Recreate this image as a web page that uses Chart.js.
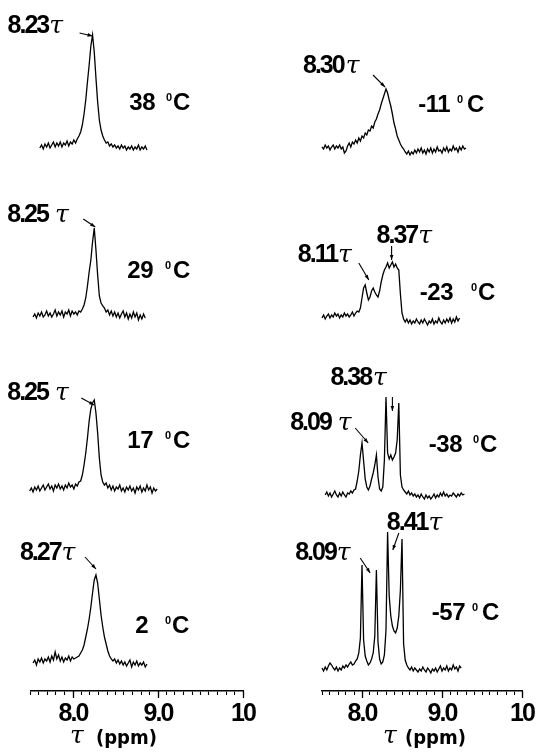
<!DOCTYPE html>
<html>
<head>
<meta charset="utf-8">
<script src="https://cdn.jsdelivr.net/npm/chart.js@4.4.0/dist/chart.umd.min.js"></script>
<style>
  html, body { margin: 0; padding: 0; background: #fff; }
  #wrap { position: relative; width: 536px; height: 752px; overflow: hidden; background: #fff; }
  canvas { position: absolute; top: 0; }
</style>
</head>
<body>
<div id="wrap">
  <canvas id="left" width="268" height="752" style="left:0"></canvas>
  <canvas id="right" width="268" height="752" style="left:268px"></canvas>
</div>
<script>
// ---------- data ----------
// chemical shift grid step (ppm) of every trace
const ppmStep = 0.02;

// temperatures (°C) of the traces, top to bottom
const leftTemps = ['38', '29', '17', '2'];
const rightTemps = ['-11', '-23', '-38', '-57'];

// first chemical shift (τ, ppm) of each trace
const leftStart = [7.61, 7.53, 7.49, 7.53];
const rightStart = [7.50, 7.50, 7.54, 7.50];

// signal intensity (arbitrary units) along each trace
const spec38 = [2,5,1,6,3,7,2,5,8,3, 7,4,8,3,7,5,9,4,8,6, 10,7,11,14,18,25,36,50,68,85,
  104,115,98,72,48,30,20,14,10,7, 8,4,6,3,5,2,4,1,5,2, 4,0,3,1,4,0,3,1,5,0, 3,1,4,0];
const spec29 = [3,6,2,7,4,8,3,5,9,4, 7,3,6,10,4,8,5,9,3,8, 6,10,4,9,6,8,5,9,8,11,
  15,22,34,48,60,78,92,70,45,24, 17,14,12,8,10,5,9,4,8,3, 7,2,6,9,3,7,1,6,2,8, 3,7,0,5,1,6,2];
const spec17 = [2,5,1,6,3,7,2,5,8,3, 6,9,4,7,2,8,5,9,4,7, 3,8,5,10,6,8,4,9,7,11,
  12,18,28,40,55,72,84,90,93,80, 60,35,18,11,8,10,5,8,3,7, 2,6,4,8,2,5,1,6,3,7,
  2,5,0,6,3,7,1,5,2,8, 3,6,0,5,2,4];
const spec2 = [2,5,0,6,3,7,2,6,4,8, 3,9,5,13,6,10,4,8,3,7, 5,9,4,8,6,7,8,
  9,12,15,20,28,36,46,58,72,85, 90,82,66,50,38,28,21,14,9,6,
  4,6,2,5,1,4,0,3,-1,2, 5,-2,3,0,4,-1,2,0,3,-2, 1];
const specM11 = [3,1,5,2,4,0,3,5,1,4, 2,5,1,3,-3,-1,4,7,3,8, 6,10,7,12,9,14,12,17,15,20,
  19,24,22,28,31,36,40,46,51,56, 61,57,50,44,36,27,21,14,10,6, 3,1,-2,-4,-1,-5,-2,-4,0,-3,
  1,-2,2,-3,0,-4,1,-2,2,-3, 1,-2,3,-1,0,-3,2,-1,3,-2, 1,-1,4,0,2,-2,3,0,4,1, 2];
const specM23 = [2,5,1,4,6,2,5,3,7,4, 6,2,5,3,7,4,6,3,5,8, 4,7,9,8,12,22,32,35,27,20,
  23,29,32,28,25,23,29,38,45,50, 53,57,52,55,58,53,56,52,50,26, 7,1,-2,1,-3,0,-4,-1,-3,1,
  -2,-4,0,-3,1,-2,-5,-1,-3,1, -4,-1,-3,2,-2,-4,0,-3,1,-2, 2,-3,1,-2,3,-1,2];
const specM38 = [0,3,-1,2,-2,1,4,0,-2,2, -1,3,0,-2,2,1,4,2,5,6, 14,24,40,52,34,16,8,5,9,16,
  22,30,40,18,6,4,8,35,98,42, 36,40,35,38,42,55,92,20,8,5, 3,1,4,0,2,-1,1,-2,0,-3,
  1,-2,-4,0,-3,-1,-4,-2,1,-3, 0,-2,2,-1,3,-1,1,-2,0,-1, 2,0,-2,1,-1,2,0,1];
const specM57 = [0,-3,1,-2,2,5,3,0,-2,1, -3,0,-2,2,0,3,1,4,6,3, 4,7,9,15,30,103,28,12,7,3,
  5,9,15,32,98,26,9,4,6,13, 38,136,72,52,42,37,35,40,52,78, 129,24,8,3,0,-2,1,-3,0,-2,
  -4,-1,-3,1,-2,-4,0,-2,-5,-1, -3,0,-4,-1,2,-3,0,-2,2,-3, 0,-2,3,-1,1,-3,2,0];

// assigned peak positions (τ, ppm) per trace
const leftPeaks = [[8.23], [8.25], [8.25], [8.27]];
const rightPeaks = [[8.30], [8.11, 8.37], [8.09, 8.38], [8.09, 8.41]];

// axis ruler
const axisMin = 7.5, axisMax = 10;
const labelledTicks = [8, 9, 10];
const labelledTickText = ['8.0', '9.0', '10'];

// ---------- layout ----------
const SANS = '"Liberation Sans", Arial, sans-serif';
const NARROW = '"Liberation Sans Narrow", "DejaVu Sans Condensed", sans-serif';
const SERIF = '"DejaVu Serif", "Liberation Serif", serif';
const INK = '#000';

const leftLayout = {
  pad: { left: 30.5, right: 25 },
  offsets: [541, 371, 198, 26],
  // label: text origin, arrow tail, arrow tip (relative to peak / baseline), gap before τ
  labels: [
    [{ text: [-85, -117], tail: [-13, -117], tip: [0, -114], gap: 1 }],
    [{ text: [-87, -98], tail: [-11, -101], tip: [1, -93], gap: 7 }],
    [{ text: [-87, -93], tail: [-13, -95], tip: [0, -88], gap: 7 }],
    [{ text: [-76, -105], tail: [-11, -108], tip: [0, -96], gap: 1 }]
  ],
  temps: [
    { right: 155, base: 110, deg: 166, c: 173 },
    { right: 153, base: 278, deg: 165, c: 173 },
    { right: 153, base: 448, deg: 165, c: 173 },
    { right: 148, base: 633, deg: 165, c: 172 }
  ],
  title: { tau: 70, ppm: 96, base: 744 }
};
const rightLayout = {
  pad: { left: 54, right: 14 },
  offsets: [541, 371, 196, 23],
  labels: [
    [{ text: [-83, -77], tail: [-13, -75], tip: [-1, -63], gap: 2 }],
    [{ text: [-73, -58], tail: [-12, -57], tip: [-2, -40], gap: 1 },
     { text: [-15, -77], tail: [0, -74], tip: [0, -60], gap: 1 }],
    [{ text: [-79, -65], tail: [-14, -67], tip: [-1, -52], gap: 7 },
     { text: [-62, -110], tail: [0, -98], tip: [0, -84], gap: 2 }],
    [{ text: [-74, -108], tail: [-9, -110], tip: [1, -95], gap: 1 },
     { text: [-8, -138], tail: [4, -135], tip: [-2, -118], gap: 1 }]
  ],
  temps: [
    { right: 182, base: 112, deg: 189, c: 199 },
    { right: 185, base: 300, deg: 203, c: 210 },
    { right: 194, base: 452, deg: 205, c: 212 },
    { right: 197, base: 620, deg: 204, c: 214 }
  ],
  title: { tau: 115, ppm: 137, base: 744 }
};

// ---------- drawing helpers ----------
function drawArrow(ctx, x0, y0, x1, y1) {
  ctx.save();
  ctx.strokeStyle = INK; ctx.fillStyle = INK; ctx.lineWidth = 1.1;
  ctx.beginPath(); ctx.moveTo(x0, y0); ctx.lineTo(x1, y1); ctx.stroke();
  const a = Math.atan2(y1 - y0, x1 - x0), L = 5, W = 1.8;
  const c = Math.cos(a), s = Math.sin(a);
  ctx.beginPath();
  ctx.moveTo(x1, y1);
  ctx.lineTo(x1 - L * c + W * s, y1 - L * s - W * c);
  ctx.lineTo(x1 - L * c - W * s, y1 - L * s + W * c);
  ctx.closePath(); ctx.fill();
  ctx.restore();
}

function drawTauLabel(ctx, value, x, y, gap) {
  const num = value.toFixed(2);
  ctx.save();
  ctx.fillStyle = INK; ctx.textAlign = 'left'; ctx.textBaseline = 'alphabetic';
  ctx.font = `bold 25px ${SANS}`;
  ctx.letterSpacing = '-2px';
  ctx.fillText(num, x, y);
  const w = ctx.measureText(num).width;
  ctx.letterSpacing = '0px';
  ctx.font = `italic 25px ${SERIF}`;
  ctx.fillText('\u03C4', x + w + gap, y);
  ctx.restore();
}

function drawTemp(ctx, t, p) {
  ctx.save();
  ctx.fillStyle = INK; ctx.textBaseline = 'alphabetic';
  ctx.font = `bold 24px ${SANS}`;
  ctx.letterSpacing = '-0.5px';
  ctx.textAlign = 'right'; ctx.fillText(t, p.right, p.base);
  ctx.textAlign = 'left';
  ctx.font = `bold 11px ${SANS}`; ctx.fillText('0', p.deg, p.base - 9);
  ctx.font = `bold 24px ${SANS}`; ctx.fillText('C', p.c, p.base);
  ctx.restore();
}

const spectrumDecor = {
  id: 'spectrumDecor',
  afterDraw(chart, args, opts) {
    const { ctx } = chart;
    const xs = chart.scales.x, ys = chart.scales.y;
    const lay = opts.layout;
    // longer ticks at whole ppm values
    ctx.save();
    ctx.strokeStyle = INK; ctx.lineWidth = 1.3;
    labelledTicks.forEach(v => {
      const px = Math.round(xs.getPixelForValue(v)) + 0.5;
      ctx.beginPath(); ctx.moveTo(px, xs.top); ctx.lineTo(px, xs.top + 7); ctx.stroke();
    });
    ctx.restore();
    // peak assignments and temperatures
    opts.peaks.forEach((list, i) => {
      const base = ys.getPixelForValue(lay.offsets[i]);
      list.forEach((ppm, j) => {
        const l = lay.labels[i][j];
        const px = xs.getPixelForValue(ppm);
        drawArrow(ctx, px + l.tail[0], base + l.tail[1], px + l.tip[0], base + l.tip[1]);
        drawTauLabel(ctx, ppm, px + l.text[0], base + l.text[1], l.gap);
      });
      drawTemp(ctx, opts.temps[i], lay.temps[i]);
    });
    // axis title
    ctx.save();
    ctx.fillStyle = INK; ctx.textAlign = 'left'; ctx.textBaseline = 'alphabetic';
    ctx.letterSpacing = '0px';
    ctx.font = `italic 25px ${SERIF}`;
    ctx.fillText('\u03C4', lay.title.tau, lay.title.base - 1);
    ctx.font = `bold 20px ${NARROW}`;
    ctx.fillText('(ppm)', lay.title.ppm, lay.title.base);
    ctx.restore();
  }
};

function makeColumn(id, starts, series, temps, peaks, lay) {
  const datasets = series.map((vals, i) => ({
    data: vals.map((v, k) => ({ x: +(starts[i] + k * ppmStep).toFixed(2), y: lay.offsets[i] + v })),
    borderColor: INK,
    borderWidth: 1.3,
    pointRadius: 0,
    tension: 0,
    fill: false,
    clip: false
  }));
  const ctx = document.getElementById(id).getContext('2d');
  return new Chart(ctx, {
    type: 'line',
    data: { datasets },
    plugins: [spectrumDecor, {
      id: 'tightDigits',
      beforeDraw(chart) { chart.ctx.letterSpacing = '-2px'; }
    }],
    options: {
      responsive: false,
      maintainAspectRatio: false,
      animation: false,
      events: [],
      layout: { padding: { left: lay.pad.left, right: lay.pad.right, top: 0, bottom: 0 } },
      plugins: {
        legend: { display: false },
        tooltip: { enabled: false },
        spectrumDecor: { layout: lay, temps, peaks }
      },
      scales: {
        x: {
          type: 'linear',
          min: axisMin,
          max: axisMax,
          position: 'bottom',
          afterBuildTicks(scale) {
            const t = [];
            for (let k = axisMin * 10; k <= axisMax * 10; k++) t.push({ value: k / 10 });
            scale.ticks = t;
          },
          afterFit(scale) {
            scale.height = 752 - 691;
            scale.paddingLeft = 0;
            scale.paddingRight = 0;
          },
          border: { display: true, color: INK, width: 1.5 },
          grid: { drawOnChartArea: false, drawTicks: true, tickLength: 4, tickWidth: 1.1, tickColor: INK },
          ticks: {
            autoSkip: false,
            maxRotation: 0,
            minRotation: 0,
            padding: 4,
            color: INK,
            font: { family: SANS, size: 25, weight: 'bold' },
            callback(v) {
              const idx = labelledTicks.findIndex(t => Math.abs(t - v) < 1e-6);
              return idx >= 0 ? labelledTickText[idx] : '';
            }
          }
        },
        y: { display: false, min: 0, max: 691 }
      }
    }
  });
}

makeColumn('left', leftStart, [spec38, spec29, spec17, spec2], leftTemps, leftPeaks, leftLayout);
makeColumn('right', rightStart, [specM11, specM23, specM38, specM57], rightTemps, rightPeaks, rightLayout);
</script>
</body>
</html>
